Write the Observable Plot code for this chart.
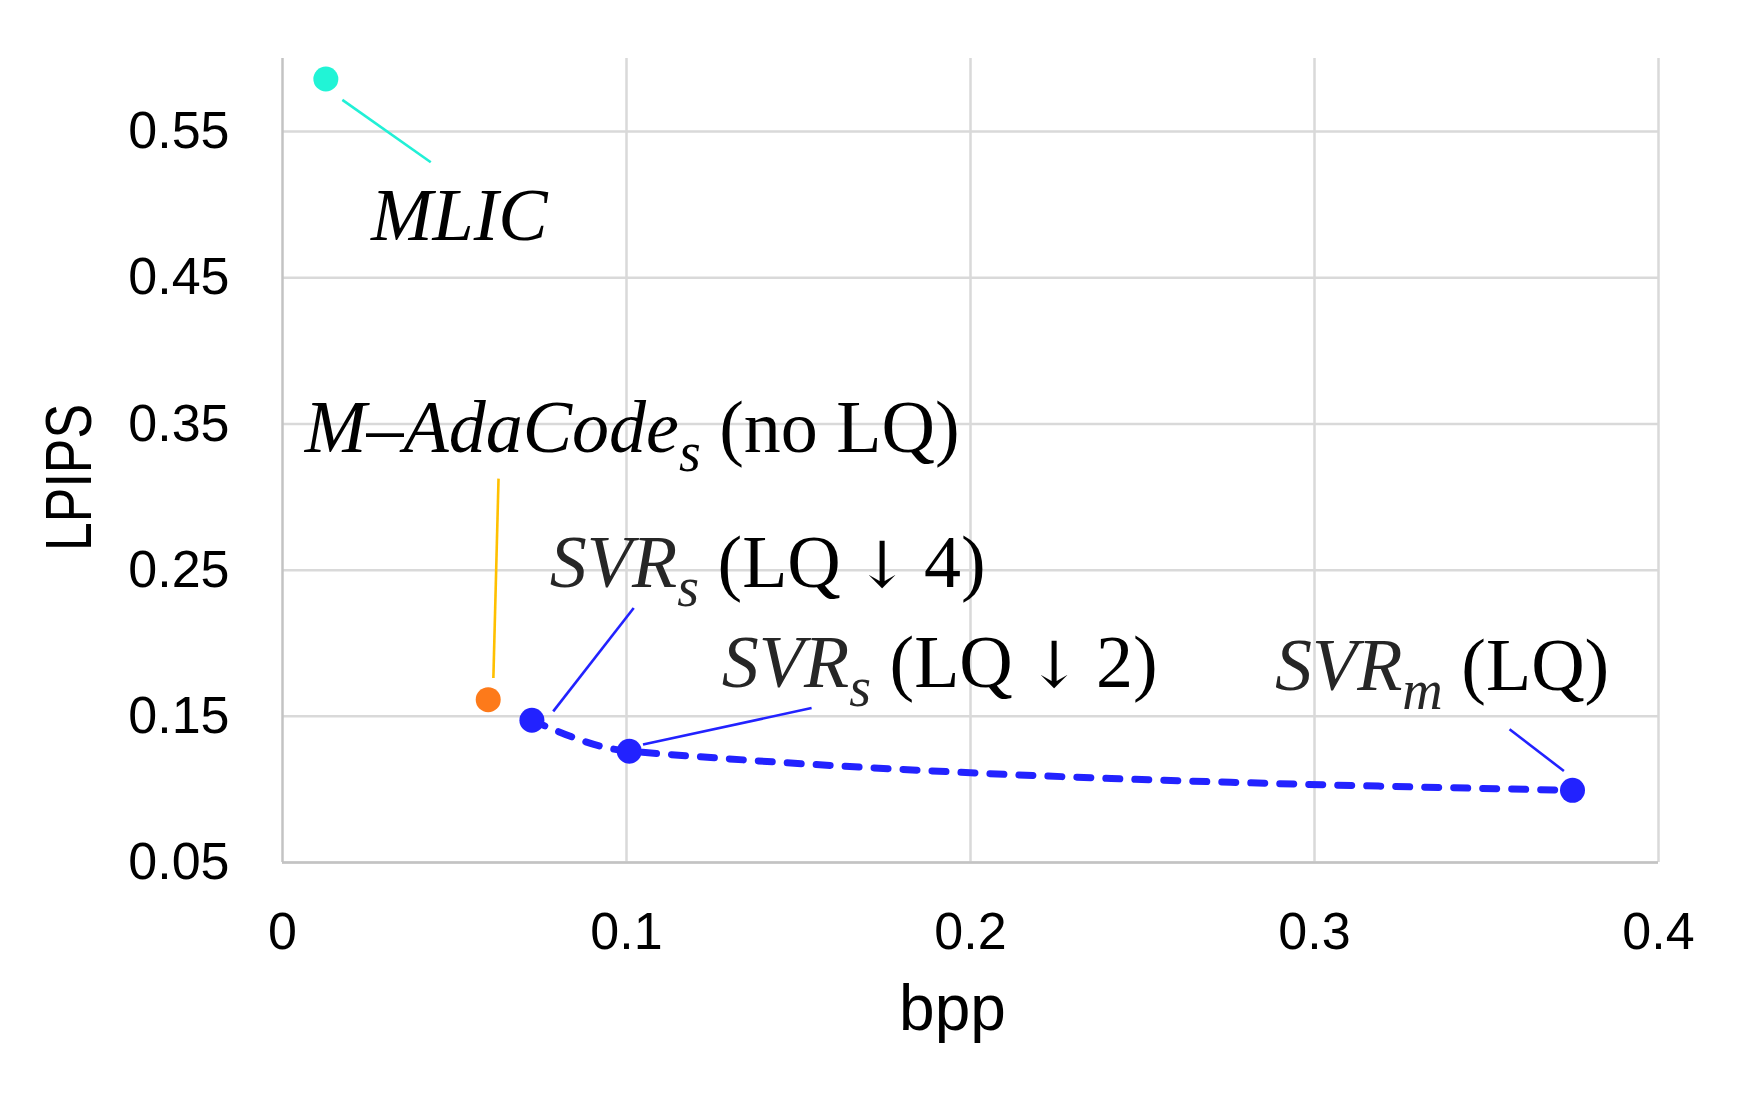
<!DOCTYPE html>
<html>
<head>
<meta charset="utf-8">
<script src="https://cdn.jsdelivr.net/npm/d3@7"></script>
<script src="https://cdn.jsdelivr.net/npm/@observablehq/plot@0.6"></script>
<style>
  html, body { margin: 0; padding: 0; background: #ffffff; }
  #chart { width: 1746px; height: 1100px; }
</style>
</head>
<body>
<div id="chart"></div>
<script>
// ---- Data ----
const methods = ["MLIC", "M-AdaCode_s (no LQ)", "SVR_s (LQ↓4)", "SVR_s (LQ↓2)", "SVR_m (LQ)"];
const bpp     = [0.0126, 0.0598, 0.0725, 0.1008, 0.375];
const lpips   = [0.586, 0.1614, 0.1473, 0.1261, 0.0994];
const onCurve = [false, false, true, true, true];   // SVR family joined by the dashed curve

// label text parts: italic main, italic subscript, upright remainder
const labelMain = ["MLIC", "M\u2013AdaCode", "SVR", "SVR", "SVR"];
const labelSub  = ["", "s", "s", "s", "m"];
const labelRest = ["", " (no LQ)", " (LQ\u2009\u2193\u20094)", " (LQ\u2009\u2193\u20092)", " (LQ)"];

// annotation anchors in data space (label start / baseline, leader line ends)
const labelBpp   = [0.0257, 0.0065, 0.0777, 0.1277, 0.2885];
const labelLpips = [0.4755, 0.3305, 0.2382, 0.1699, 0.1678];
const leadBpp1   = [0.0174, 0.0628, 0.1021, 0.1538, 0.3567];
const leadLpips1 = [0.5717, 0.3126, 0.2241, 0.1557, 0.1411];
const leadBpp2   = [0.0431, 0.0613, 0.0787, 0.1048, 0.3725];
const leadLpips2 = [0.5290, 0.1762, 0.1534, 0.1307, 0.1126];

const xTicks = [0, 0.1, 0.2, 0.3, 0.4];
const yTicks = [0.05, 0.15, 0.25, 0.35, 0.45, 0.55];

// ---- Styles ----
const dotColors    = ["#21f4d6", "#fd7a1a", "#2222ff", "#2222ff", "#2222ff"];
const leaderColors = ["#21f0d6", "#ffc000", "#2222ff", "#2222ff", "#2222ff"];
const labelColors  = ["#000000", "#000000", "#262626", "#262626", "#262626"];

const rows = methods.map((m, i) => ({
  method: m, bpp: bpp[i], lpips: lpips[i], onCurve: onCurve[i],
  dot: dotColors[i], leader: leaderColors[i], labelColor: labelColors[i],
  main: labelMain[i], sub: labelSub[i], rest: labelRest[i],
  full: labelMain[i] + labelSub[i] + labelRest[i],
  lx: labelBpp[i], ly: labelLpips[i],
  x1: leadBpp1[i], y1: leadLpips1[i], x2: leadBpp2[i], y2: leadLpips2[i]
}));
const curveRows = rows.filter(d => d.onCurve);

const gridStyle = { stroke: "#d9d9d9", strokeOpacity: 1, strokeWidth: 2.5 };
const axisLine  = { stroke: "#c3c3c3", strokeOpacity: 1, strokeWidth: 2.5 };

const chart = Plot.plot({
  width: 1746,
  height: 1100,
  marginLeft: 282,
  marginRight: 88,
  marginTop: 58,
  marginBottom: 238,
  x: { domain: [0, 0.4] },
  y: { domain: [0.05, 0.6] },
  color: { type: "identity" },
  style: { background: "#ffffff", fontFamily: "'Liberation Sans', Arial, sans-serif", color: "#000" },
  marks: [
    Plot.gridY(yTicks, gridStyle),
    Plot.gridX(xTicks.slice(1), gridStyle),
    Plot.ruleX([0], axisLine),
    Plot.ruleY([0.05], axisLine),
    Plot.axisY(yTicks, {
      tickSize: 0, tickPadding: 53, fontSize: 52, label: null,
      tickFormat: d => d.toFixed(2), fill: "#000"
    }),
    Plot.axisX(xTicks, {
      tickSize: 0, tickPadding: 50, fontSize: 52, label: null,
      tickFormat: d => (d === 0 ? "0" : String(d)), fill: "#000"
    }),
    Plot.text(["LPIPS"], {
      frameAnchor: "left", text: d => d, rotate: -90, dx: -212, dy: 17,
      fontSize: 64, textAnchor: "middle", lineAnchor: "middle", fill: "#000"
    }),
    Plot.text(["bpp"], {
      frameAnchor: "bottom", text: d => d, dx: -18, dy: 167,
      fontSize: 64, textAnchor: "middle", lineAnchor: "bottom", fill: "#000"
    }),
    Plot.link(rows, {
      x1: "x1", y1: "y1", x2: "x2", y2: "y2",
      stroke: "leader", strokeWidth: 2.6
    }),
    Plot.line(curveRows, {
      x: "bpp", y: "lpips", stroke: "#2222ff", strokeWidth: 7,
      strokeDasharray: "14,15", strokeLinecap: "round", curve: "monotone-x"
    }),
    Plot.dot(rows, { x: "bpp", y: "lpips", r: 12.5, fill: "dot", stroke: "none" }),
    Plot.text(rows, {
      x: "lx", y: "ly", text: "full", textAnchor: "start", lineAnchor: "bottom",
      fontSize: 74, fontFamily: "'Liberation Serif', 'Times New Roman', serif",
      fill: "labelColor"
    })
  ]
});

// Rich text for labels: italic names with subscripts, upright remainders
const NS = "http://www.w3.org/2000/svg";
const byFull = new Map(rows.map(d => [d.full, d]));
function span(parent, text, attrs) {
  const t = document.createElementNS(NS, "tspan");
  for (const k in attrs) t.setAttribute(k, attrs[k]);
  t.textContent = text;
  parent.appendChild(t);
  return t;
}
chart.querySelectorAll("text").forEach(el => {
  const d = byFull.get(el.textContent);
  if (!d) {
    if (el.textContent === "LPIPS") {
      const t = el.getAttribute("transform") || "";
      el.setAttribute("transform", t + " scale(0.81,1)");
    }
    return;
  }
  el.textContent = "";
  span(el, d.main, { "font-style": "italic" });
  if (d.sub) span(el, d.sub, { "font-style": "italic", "font-size": "56", dy: "19" });
  if (d.rest) {
    const parts = d.rest.split("\u2193");
    span(el, parts[0], { "font-style": "normal", fill: "#000", dy: d.sub ? "-19" : "0" });
    if (parts.length > 1) {
      span(el, "\u2193", { "font-family": "'DejaVu Serif', serif", "font-size": "64", fill: "#000" });
      span(el, parts[1], { "font-style": "normal", fill: "#000" });
    }
  }
});

document.getElementById("chart").appendChild(chart);
</script>
</body>
</html>
